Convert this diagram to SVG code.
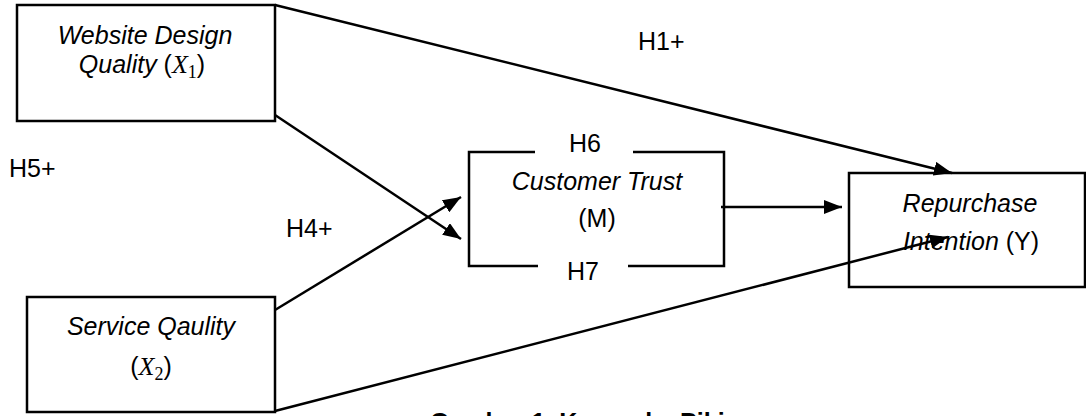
<svg xmlns="http://www.w3.org/2000/svg" width="1086" height="416" viewBox="0 0 1086 416">
  <style>
    .box { fill: none; stroke: #000; stroke-width: 2.5; }
    .edge { fill: none; stroke: #000; stroke-width: 2.5; }
    .lbl { font-family: "Liberation Sans", Arial, sans-serif; font-size: 25px; fill: #000; }
    .it { font-style: italic; }
    .math { font-family: "Liberation Serif", "Times New Roman", serif; font-style: italic; font-size: 26px; }
    .sub { font-family: "Liberation Serif", "Times New Roman", serif; font-style: normal; font-size: 18px; }
    .cap { font-family: "Liberation Sans", Arial, sans-serif; font-size: 25px; font-weight: bold; fill: #000; }
  </style>
  <defs>
    <marker id="arrow" markerUnits="userSpaceOnUse" markerWidth="18" markerHeight="14" refX="18" refY="7" orient="auto">
      <path d="M0,0 L18,7 L0,14 Z" fill="#000"/>
    </marker>
  </defs>

  <rect width="1086" height="416" fill="#fff"/>

  <!-- connectors -->
  <g id="connectors">
    <line class="edge" x1="275" y1="5" x2="952" y2="173" marker-end="url(#arrow)"/>
    <line class="edge" x1="275" y1="115" x2="461" y2="239" marker-end="url(#arrow)"/>
    <line class="edge" x1="275" y1="310" x2="461" y2="197" marker-end="url(#arrow)"/>
    <line class="edge" x1="275" y1="411" x2="948" y2="237" marker-end="url(#arrow)"/>
    <line class="edge" x1="721" y1="207" x2="842" y2="207" marker-end="url(#arrow)"/>
  </g>

  <!-- hypothesis labels -->
  <g id="labels">
    <text class="lbl" x="638" y="50">H1+</text>
    <text class="lbl" x="9" y="177">H5+</text>
    <text class="lbl" x="286" y="237">H4+</text>
  </g>

  <!-- Website Design Quality -->
  <g id="x1">
    <rect class="box" x="17" y="5" width="258" height="116"/>
    <text class="lbl it" x="145" y="44" text-anchor="middle">Website Design</text>
    <text class="lbl" x="142" y="73" text-anchor="middle"><tspan class="it">Quality </tspan>(<tspan class="math">X</tspan><tspan class="sub" dy="5">1</tspan><tspan dy="-5">)</tspan></text>
  </g>

  <!-- Service Quality -->
  <g id="x2">
    <rect class="box" x="27" y="297" width="248" height="115"/>
    <text class="lbl it" x="151" y="335" text-anchor="middle">Service Qaulity</text>
    <text class="lbl" x="151" y="375" text-anchor="middle">(<tspan class="math">X</tspan><tspan class="sub" dy="5">2</tspan><tspan dy="-5">)</tspan></text>
  </g>

  <!-- Customer Trust (mediator) with H6 / H7 in the border -->
  <g id="m">
    <path class="box" d="M535,152 H469 V266 H538"/>
    <path class="box" d="M633,152 H724 V266 H628"/>
    <text class="lbl" x="585" y="152" text-anchor="middle">H6</text>
    <text class="lbl" x="583" y="280" text-anchor="middle">H7</text>
    <text class="lbl it" x="597" y="190" text-anchor="middle">Customer Trust</text>
    <text class="lbl" x="597" y="227" text-anchor="middle">(M)</text>
  </g>

  <!-- Repurchase Intention -->
  <g id="y">
    <rect class="box" x="849" y="173" width="236" height="114"/>
    <text class="lbl it" x="970" y="212" text-anchor="middle">Repurchase</text>
    <text class="lbl" x="971" y="250" text-anchor="middle"><tspan class="it">Intention</tspan> (Y)</text>
  </g>

  <text class="cap" x="430" y="431">Gambar 1. Kerangka Pikir</text>
</svg>
